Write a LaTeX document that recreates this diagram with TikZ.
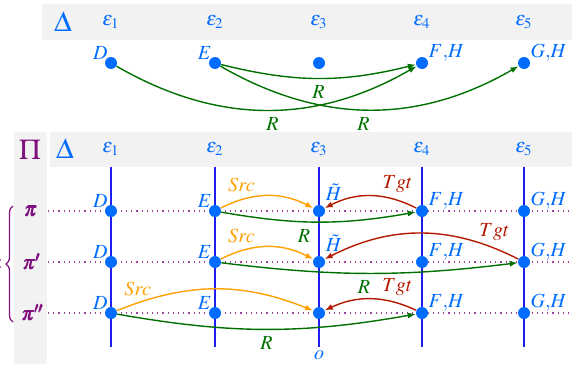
\documentclass[tikz,border=0pt]{standalone}
\usepackage{amsmath}
\usepackage{amssymb}
\usepackage{mathptmx}
\usepackage{xcolor}
\usepackage{tikz}
\usetikzlibrary{positioning, arrows.meta, decorations.pathreplacing}
\definecolor{epsblue}{RGB}{0, 108, 255}
\definecolor{axisblue}{RGB}{30, 30, 240}
\definecolor{pipurple}{RGB}{128, 16, 128}
\definecolor{srcorange}{RGB}{255, 160, 0}
\definecolor{tgtred}{RGB}{180, 25, 0}
\definecolor{relgreen}{RGB}{0, 112, 0}

\begin{document}
\begin{tikzpicture}[x=0.5pt, y=-0.5pt,
  pt/.style={circle, fill=epsblue, inner sep=0pt, minimum size=6pt},
  lab/.style={text=epsblue, inner sep=0pt},
  rel/.style={relgreen, line width=0.7pt, -{Latex[length=4pt,width=3pt]}},
  src/.style={srcorange, line width=0.7pt, -{Latex[length=4pt,width=3pt]}},
  tgt/.style={tgtred, line width=0.7pt, -{Latex[length=4pt,width=3pt]}}]
\useasboundingbox (0,0) rectangle (572,364);
\fill[black!5] (42,4) rectangle (572,40);
\fill[black!5] (14,132) rectangle (47,364);
\fill[black!5] (50,132) rectangle (572,167);
\node[text=epsblue] (delta1) at (63,22) {\Large $\Delta$};
\node[text=epsblue] (delta2) at (65,149) {\Large $\Delta$};
\node[text=pipurple] (Pi) at (30,150) {\Large $\Pi$};
\foreach \i/\x in {1/111,2/215,3/319,4/422,5/524} {
  \node[text=epsblue] (e\i) at (\x,22) {$\varepsilon_{\i}$};
  \node[text=epsblue] (f\i) at (\x,149) {$\varepsilon_{\i}$};
  \draw[axisblue, line width=0.6pt] (\x,167) -- (\x,347);
}
\foreach \y in {211,262,313}
  \draw[pipurple!80, dotted, semithick] (48,\y) -- (572,\y);
% delta
\node[pt, label={[lab, label distance=-1pt]135:$D$}] (t1) at (111,63) {};
\node[pt, label={[lab, label distance=-1pt]135:$E$}] (t2) at (215,63) {};
\node[pt] (t3) at (319,63) {};
\node[pt, label={[lab, anchor=south west]10:$F{,}H$}] (t4) at (422,63) {};
\node[pt, label={[lab, anchor=south west]10:$G{,}H$}] (t5) at (524,63) {};
\draw[rel] (t1) to[bend right=30] node[pos=0.52, below] {$R$} (t4);
\draw[rel] (t2) to[bend right=14] node[pos=0.5, below] {$R$} (t4);
\draw[rel] (t2) to[bend right=30] node[pos=0.48, below] {$R$} (t5);
% pi rows
\foreach \r/\y in {a/211,b/262,c/313} {
  \node[pt, label={[lab, label distance=-1pt]135:$D$}] (\r1) at (111,\y) {};
  \node[pt, label={[lab, label distance=-1pt]135:$E$}] (\r2) at (215,\y) {};
  \node[pt] (\r3) at (319,\y) {};
  \node[pt, label={[lab, anchor=south west]10:$F{,}H$}] (\r4) at (422,\y) {};
  \node[pt, label={[lab, anchor=south west]10:$G{,}H$}] (\r5) at (524,\y) {};
}
\node[lab, above right=3pt and 1pt of a3] (ha) {$\tilde{H}$};
\node[lab, above right=3pt and 1pt of b3] (hb) {$\tilde{H}$};
\node[text=pipurple] (pa) at (31,211) {$\pmb{\pi}$};
\node[text=pipurple] (pb) at (32,262) {$\pmb{\pi'}$};
\node[text=pipurple] (pc) at (33,313) {$\pmb{\pi''}$};
\draw[pipurple, semithick, decorate, decoration={brace, amplitude=3.5pt}] (13,322) -- (13,206);
\node[text=pipurple] (colon) at (0,264) {$:$};
\node[text=epsblue] (o) at (319,355) {$o$};

\draw[src] (a2) to[bend left=27] node[pos=0.22, above] {$Src$} (a3);
\draw[tgt] (a4) to[bend right=27] node[pos=0.2, above] {$Tgt$} (a3);
\draw[rel] (a2) to[bend right=10] node[pos=0.42, below] {$R$} (a4);

\draw[src] (b2) to[bend left=27] node[pos=0.22, above] {$Src$} (b3);
\draw[tgt] (b5) to[bend right=27] node[pos=0.12, above] {$Tgt$} (b3);
\draw[rel] (b2) to[bend right=7] node[pos=0.48, below] {$R$} (b5);

\draw[src] (c1) to[bend left=22] node[pos=0.1, above] {$Src$} (c3);
\draw[tgt] (c4) to[bend right=25] node[pos=0.2, above] {$Tgt$} (c3);
\draw[rel] (c1) to[bend right=10] node[pos=0.5, below] {$R$} (c4);
\end{tikzpicture}
\end{document}
